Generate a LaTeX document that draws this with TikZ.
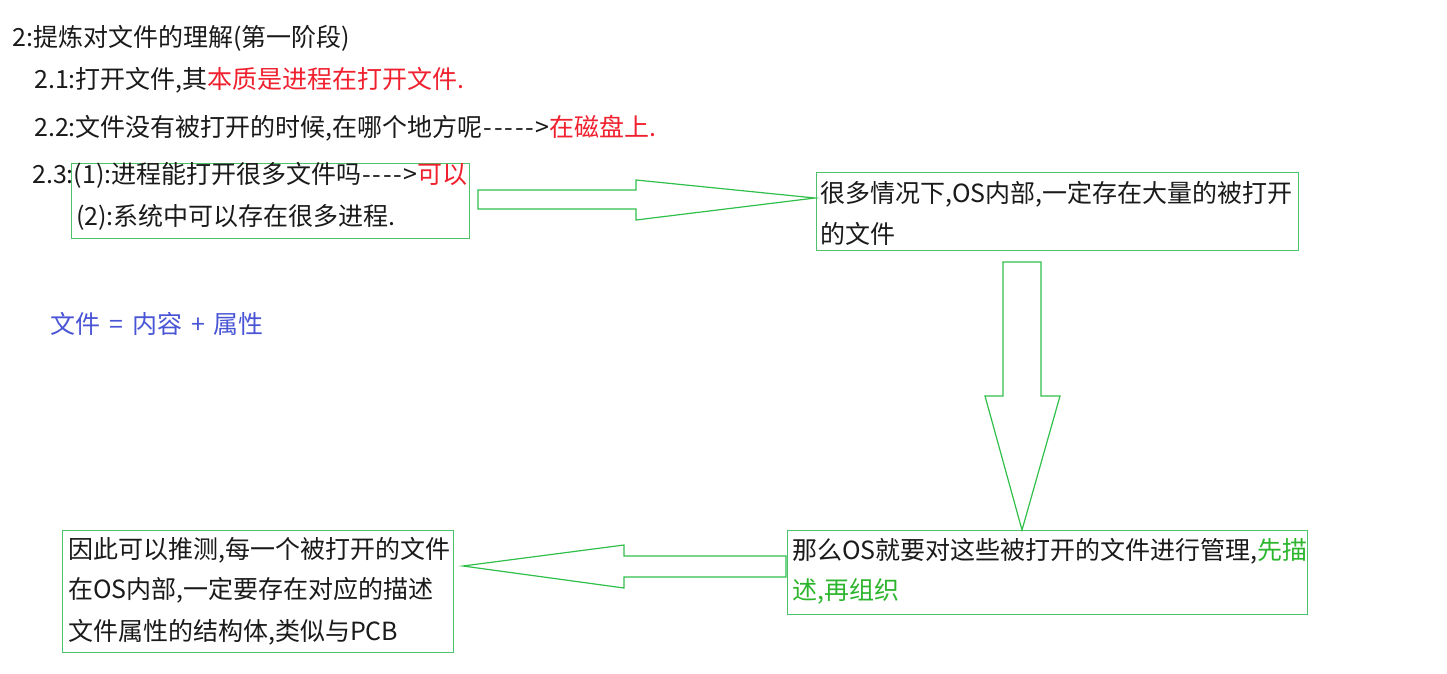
\documentclass[tikz,border=0pt]{standalone}
\usepackage{fontspec}
\setmainfont{Noto Sans CJK SC}
\definecolor{txtc}{HTML}{1A1A1A}
\definecolor{redc}{HTML}{F0202E}
\definecolor{greenc}{HTML}{2DB52D}
\definecolor{boxc}{HTML}{4CC26A}
\definecolor{arrc}{HTML}{30C04A}
\definecolor{bluec}{HTML}{4A55D6}
\newcommand{\hy}{\makebox[10.5pt]{-}}
\tikzset{
  box/.style={draw=boxc, line width=1.3pt, rectangle, inner sep=0pt, anchor=north west},
  txt/.style={anchor=west, inner sep=0pt, text=txtc, font=\fontsize{25}{25}\selectfont},
  blockarrow/.style={draw=arrc, line width=1.2pt, line join=miter, fill=white}
}
\begin{document}
\begin{tikzpicture}[x=1pt,y=-1pt]
\useasboundingbox[fill=white] (0,0) rectangle (1447,673);
% boxes
\node[box, minimum width=398pt, minimum height=75pt] (b1) at (71,163) {};
\node[box, minimum width=482pt, minimum height=78pt] (b2) at (816,172) {};
\node[box, minimum width=520pt, minimum height=84pt] (b3) at (787,530) {};
\node[box, minimum width=391pt, minimum height=122pt] (b4) at (62,530) {};
% top texts
\node[txt] (t0) at (12,38) {2:提炼对文件的理解(第一阶段)};
\node[txt] (t1) at (34,80) {2.1:打开文件,其\textcolor{redc}{本质是进程在打开文件.}};
\node[txt] (t2) at (34,128) {2.2:文件没有被打开的时候,在哪个地方呢\hy\hy\hy\hy\hy>\textcolor{redc}{在磁盘上.}};
\node[txt] (t3) at (32,175) {2.3:(1):进程能打开很多文件吗\hy\hy\hy\hy>\textcolor{redc}{可以}};
\node[txt] (t4) at (76,217) {(2):系统中可以存在很多进程.};
\node[txt, text=bluec] (t5) at (50,324) {文件\hspace*{9pt}=\hspace*{9pt}内容\hspace*{9pt}+\hspace*{9pt}属性};
% box 2 text
\node[txt] (t6) at (820,194) {很多情况下,OS内部,一定存在大量的被打开};
\node[txt] (t7) at (820,234) {的文件};
% box 3 text
\node[txt] (t8) at (792,551) {那么OS就要对这些被打开的文件进行管理,\textcolor{greenc}{先描}};
\node[txt, text=greenc] (t9) at (792,591) {述,再组织};
% box 4 text
\node[txt] (t10) at (68,550) {因此可以推测,每一个被打开的文件};
\node[txt] (t11) at (68,590) {在OS内部,一定要存在对应的描述};
\node[txt] (t12) at (68,632) {文件属性的结构体,类似与PCB};
% block arrows
\coordinate (tipA) at (815,198);
\coordinate (tipB) at (1022,530);
\coordinate (tipC) at (463,566);
\draw[blockarrow] (478,190) -- (636,190) -- (636,180) -- (tipA) -- (636,220) -- (636,209) -- (478,209) -- cycle;
\draw[blockarrow] (1003,262) -- (1041,262) -- (1041,396) -- (1060,396) -- (tipB) -- (985,396) -- (1003,396) -- cycle;
\draw[blockarrow] (786,556) -- (624,556) -- (624,545) -- (tipC) -- (624,588) -- (624,577) -- (786,577) -- cycle;
\end{tikzpicture}
\end{document}
